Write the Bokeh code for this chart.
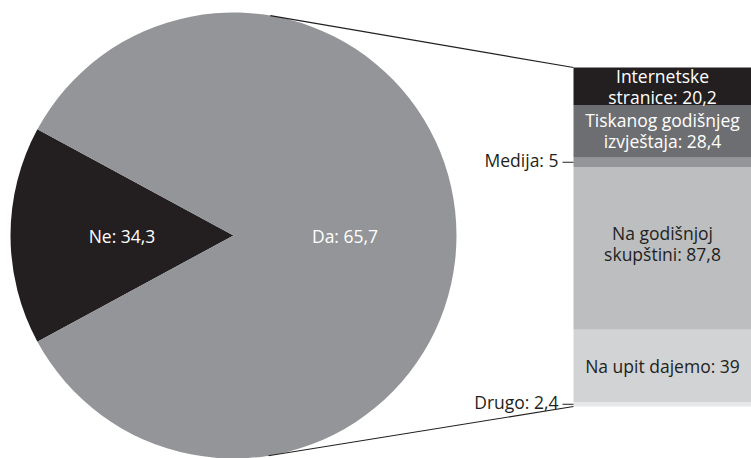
import numpy as np
from bokeh.plotting import figure
from bokeh.models import Range1d, ColumnDataSource
from bokeh.core.properties import value
from bokeh.embed import file_html
from bokeh.resources import INLINE

# ---------------- data ----------------
pie_labels = ["Ne", "Da"]
pie_values = [34.3, 65.7]
pie_colors = ["#231f20", "#939598"]

bar_labels = [["Internetske", "stranice: 20,2"],
              ["Tiskanog godišnjeg", "izvještaja: 28,4"],
              ["Medija: 5"],
              ["Na godišnjoj", "skupštini: 87,8"],
              ["Na upit dajemo: 39"],
              ["Drugo: 2,4"]]
bar_values = [20.2, 28.4, 5, 87.8, 39, 2.4]
bar_colors = ["#231f20", "#6d6e71", "#939598", "#bcbec0", "#d1d3d4", "#e6e7e8"]
bar_text_colors = ["white", "white", "#231f20", "#231f20", "#231f20", "#231f20"]
bar_label_outside = [False, False, True, False, False, True]

FONT = value("Open Sans")
FS = "17.5px"

W, H = 751, 458
p = figure(width=W, height=H, output_backend="svg", toolbar_location=None,
           x_range=Range1d(0, W), y_range=Range1d(0, H),
           x_axis_location=None, y_axis_location=None, min_border=0)
p.grid.visible = False
p.outline_line_color = None

def yup(sy):
    return H - sy

# ---------------- pie ----------------
cx, cy, r = 233, yup(235), 223
other_total = sum(bar_values)
frac_ne = pie_values[0] / (pie_values[0] + other_total)
half = np.pi * frac_ne
starts = [np.pi - half, np.pi + half]
ends = [np.pi + half, np.pi - half + 2 * np.pi]
pie_src = ColumnDataSource(dict(start=starts, end=ends, color=pie_colors))
p.wedge(x=cx, y=cy, radius=r, start_angle="start", end_angle="end",
        fill_color="color", line_color=None, source=pie_src)

mid_angles = [np.pi, 0.0]
lx = [cx + 0.5 * r * np.cos(a) for a in mid_angles]
ly = [cy + 0.5 * r * np.sin(a) for a in mid_angles]
ptxt = [f"{l}: {v:g}".replace(".", ",") for l, v in zip(pie_labels, pie_values)]
p.text(x=lx, y=ly, text=ptxt, text_color="white", text_font=FONT,
       text_font_size=FS, text_align="center", text_baseline="middle")

# ---------------- bar ----------------
bar_top_sy, bar_bot_sy = 67, 406
k = (bar_bot_sy - bar_top_sy) / other_total
p.extra_y_ranges = {"bar": Range1d(start=(yup(bar_top_sy) - 0) / k,
                                   end=(yup(bar_top_sy) - H) / k)}
cum = np.cumsum(bar_values)
tops = np.concatenate([[0], cum[:-1]])
bots = cum
bar_left, bar_right = 573, 751
p.quad(left=bar_left, right=bar_right, top=tops, bottom=bots,
       fill_color=bar_colors, line_color=None, y_range_name="bar")

mids = (tops + bots) / 2
bar_cx = 662
for i, lines in enumerate(bar_labels):
    if bar_label_outside[i]:
        p.text(x=[558], y=[mids[i]], text=[lines[0]], text_color="#231f20",
               text_font=FONT, text_font_size=FS, text_align="right",
               text_baseline="middle", y_offset=-2, y_range_name="bar")
        p.segment(x0=[562], x1=[bar_left], y0=[mids[i]], y1=[mids[i]],
                  line_color="#231f20", line_width=1, y_range_name="bar")
    else:
        n = len(lines)
        offs = [0] if n == 1 else [-10.5, 10.5]
        shift = -5 if i == 3 else (-1 if i == 1 else 0)
        for ln, off in zip(lines, offs):
            p.text(x=[bar_cx], y=[mids[i]], text=[ln], text_color=bar_text_colors[i],
                   text_font=FONT, text_font_size=FS, text_align="center",
                   text_baseline="middle", y_offset=off + shift, y_range_name="bar")

# ---------------- connector lines ----------------
a_top, a_bot = np.deg2rad(80.5), np.deg2rad(-81.0)
p.segment(x0=[cx + r * np.cos(a_top), cx + r * np.cos(a_bot)],
          y0=[cy + r * np.sin(a_top), cy + r * np.sin(a_bot)],
          x1=[bar_left, bar_left],
          y1=[yup(bar_top_sy), yup(bar_bot_sy)],
          line_color="#231f20", line_width=1.2)

open("out.html", "w").write(file_html(p, INLINE))
